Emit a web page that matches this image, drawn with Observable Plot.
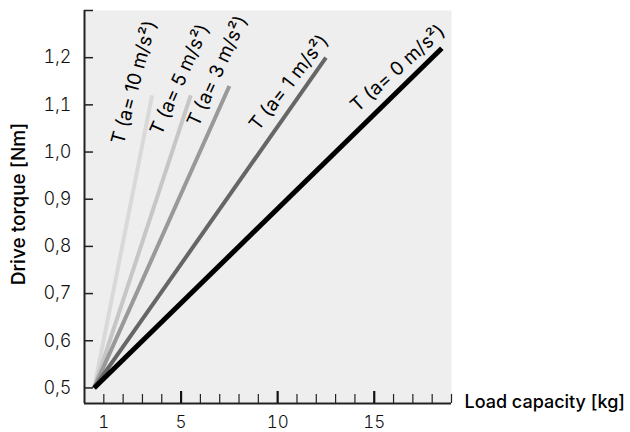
<!DOCTYPE html>
<html><head><meta charset="utf-8">
<script src="https://cdn.jsdelivr.net/npm/d3@7"></script>
<script src="https://cdn.jsdelivr.net/npm/@observablehq/plot@0.6"></script>
<style>body{margin:0;background:#fff;} svg{display:block;}</style>
</head><body><div id="chart"></div>
<script>
// ---- data ----
const seriesNames = ["a=10", "a=5", "a=3", "a=1", "a=0"];
const seriesLabels = ["T (a= 10 m/s²)", "T (a= 5 m/s²)", "T (a= 3 m/s²)", "T (a= 1 m/s²)", "T (a= 0 m/s²)"];
const startLoad = [0.5, 0.5, 0.5, 0.5, 0.5];
const startTorque = [0.5, 0.5, 0.5, 0.5, 0.5];
const endLoad = [3.5, 5.5, 7.5, 12.5, 18.5];
const endTorque = [1.12, 1.12, 1.14, 1.2, 1.22];
const xMinorTicks = [1,2,3,4,6,7,8,9,11,12,13,14,16,17,18,19];
const xMajorTicks = [5, 10, 15];
const xTickLabels = [1, 5, 10, 15];
const yTicks = [0.5, 0.6, 0.7, 0.8, 0.9, 1.0, 1.1, 1.2, 1.3];
const yTickLabels = [0.5, 0.6, 0.7, 0.8, 0.9, 1.0, 1.1, 1.2];
const xDomain = [0, 19];
const yDomain = [0.467, 1.3];

// ---- styles ----
const colors = ["#d9d9d9", "#c6c6c6", "#999999", "#666666", "#000000"];
const widths = [4, 4, 4, 4, 5];
const labelRotate = [-75, -66, -65.5, -52, -42];
const labelDx = [-18, -11, -12, -37, -44];
const labelDy = [-13, -16, -15, 25, 20];
const FONT = "Inter, 'Liberation Sans', sans-serif";
const fmt = d => d3.format(".1f")(d).replace(".", ",");

const marks = [Plot.frame({fill: "#eeeeee", stroke: null})];
seriesNames.forEach((s, i) => {
  const rows = [
    {load: startLoad[i], torque: startTorque[i]},
    {load: endLoad[i], torque: endTorque[i]}
  ];
  marks.push(Plot.line(rows, {x: "load", y: "torque", stroke: colors[i], strokeWidth: widths[i], strokeLinecap: "butt"}));
});
seriesNames.forEach((s, i) => {
  marks.push(Plot.text([seriesLabels[i]], {
    x: () => endLoad[i], y: () => endTorque[i], text: d => d,
    rotate: labelRotate[i], dx: labelDx[i], dy: labelDy[i],
    fontSize: 19, fontWeight: 400, fontStyle: "normal", fill: "#000", textAnchor: "middle", lineAnchor: "middle"
  }));
});
marks.push(
  Plot.ruleX([xDomain[0]], {stroke: "#222", strokeWidth: 2}),
  Plot.ruleY([yDomain[0]], {stroke: "#222", strokeWidth: 2}),
  Plot.axisY(yTicks, {anchor: "left", tickSize: -9, fill: "none", label: null, stroke: "#222", strokeWidth: 1.5}),
  Plot.axisY(yTickLabels, {anchor: "left", tickSize: 0, tickPadding: 13, tickFormat: fmt, label: null, fontSize: 18, fontWeight: 300, fill: "#111"}),
  Plot.axisX(xMinorTicks, {anchor: "bottom", tickSize: -9, fill: "none", label: null, stroke: "#222", strokeWidth: 1.2}),
  Plot.axisX(xMajorTicks, {anchor: "bottom", tickSize: -12, fill: "none", label: null, stroke: "#111", strokeWidth: 2.2}),
  Plot.axisX(xTickLabels, {anchor: "bottom", tickSize: 0, tickPadding: 12, tickFormat: d => String(d), label: null, fontSize: 17, fontWeight: 300, fill: "#111"}),
  Plot.text(["Drive torque [Nm]"], {frameAnchor: "left", text: d => d, rotate: -90, dx: -66, dy: -3, fontSize: 19, fontWeight: 500, fill: "#000", textAnchor: "middle", lineAnchor: "middle"}),
  Plot.text(["Load capacity [kg]"], {frameAnchor: "bottom-right", text: d => d, dx: 13, dy: -1, fontSize: 18, fontWeight: 500, fill: "#000", textAnchor: "start", lineAnchor: "middle", letterSpacing: "-0.3px"})
);

const chart = Plot.plot({
  width: 630, height: 432,
  marginLeft: 84, marginRight: 179, marginTop: 10, marginBottom: 29,
  style: {fontFamily: FONT, background: "#fff", overflow: "visible"},
  x: {domain: xDomain, axis: null},
  y: {domain: yDomain, axis: null},
  marks
});
document.getElementById("chart").append(chart);
</script>
</body></html>
